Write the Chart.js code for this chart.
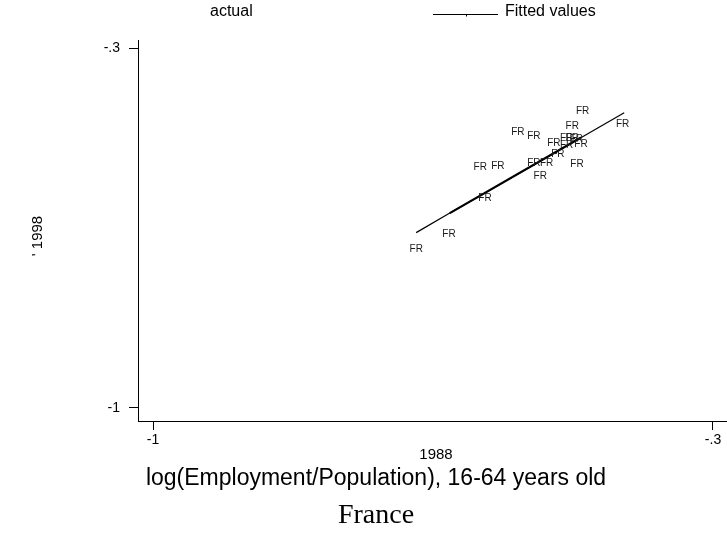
<!DOCTYPE html>
<html><head><meta charset="utf-8">
<script src="https://cdn.jsdelivr.net/npm/chart.js@4.4.0/dist/chart.umd.min.js"></script>
<style>html,body{margin:0;padding:0;background:#fff;}#wrap{width:727px;height:544px;position:relative;}</style>
</head><body><div id="wrap"><canvas id="c" width="727" height="544"></canvas></div>
<script>
// ---- data ----
const markLabel = "FR";
const actualX = [-0.463,-0.413,-0.476,-0.544,-0.524,-0.483,-0.476,-0.471,-0.499,-0.483,-0.465,-0.494,-0.591,-0.569,-0.524,-0.508,-0.470,-0.516,-0.585,-0.630,-0.671];
const actualY = [-0.423,-0.448,-0.452,-0.463,-0.471,-0.475,-0.475,-0.477,-0.485,-0.489,-0.487,-0.506,-0.531,-0.529,-0.524,-0.524,-0.526,-0.549,-0.592,-0.662,-0.691];
// fitted line (whole line, and the overdrawn middle part)
const fittedX = [-0.671,-0.629,-0.586,-0.411];
const fittedY = [-0.659,-0.621,-0.583,-0.426];
const fittedMidX = [-0.629,-0.465];
const fittedMidY = [-0.621,-0.474];
const xTicks = [-1, -0.3];
const yTicks = [-1, -0.3];
const tickText = {"-1":"-1","-0.3":"-.3"};
const legendLabels = ["actual", "Fitted values"];
const xTitle = "log(Employment/Population), 16-64 years old";
const xSubTitle = "1988";
const yTitle = "' 1998";
const chartTitle = "France";

const SANS = "'Liberation Sans', Arial, sans-serif";
const SERIF = "'Liberation Serif', 'Times New Roman', serif";

const fmt = v => tickText[String(Math.round(v*1000)/1000)] ?? String(v);

const marksPlugin = {
  id: 'marks',
  afterDatasetsDraw(chart) {
    const ctx = chart.ctx;
    const meta = chart.getDatasetMeta(0);
    ctx.save();
    ctx.font = "10px " + SANS;
    ctx.fillStyle = "#1a1a1a";
    ctx.textAlign = "center";
    ctx.textBaseline = "middle";
    meta.data.forEach(p => ctx.fillText(markLabel, p.x, p.y));
    ctx.restore();
  },
  afterDraw(chart) {
    const ctx = chart.ctx;
    ctx.save();
    ctx.fillStyle = "#000";
    ctx.strokeStyle = "#000";
    // legend
    ctx.font = "16px " + SANS;
    ctx.textBaseline = "middle";
    ctx.textAlign = "left";
    ctx.fillText(legendLabels[0], 210, 12);
    ctx.beginPath(); ctx.lineWidth = 1;
    ctx.moveTo(433, 14.5); ctx.lineTo(498, 14.5); ctx.stroke();
    ctx.fillRect(466, 15, 1, 1.5);
    ctx.fillText(legendLabels[1], 505, 12);
    // x titles
    ctx.textAlign = "center";
    ctx.font = "15px " + SANS;
    ctx.fillText(xSubTitle, 436, 455);
    ctx.font = "23px " + SANS;
    ctx.fillText(xTitle, 376, 479);
    ctx.font = "28px " + SERIF;
    ctx.fillText(chartTitle, 376, 516);
    // y title
    ctx.save();
    ctx.translate(38, 236);
    ctx.rotate(-Math.PI/2);
    ctx.font = "15px " + SANS;
    ctx.fillText(yTitle, 0, 0);
    ctx.restore();
    ctx.restore();
  }
};

new Chart(document.getElementById('c'), {
  type: 'scatter',
  data: {
    datasets: [
      { label: legendLabels[0], data: actualX.map((x,i)=>({x, y: actualY[i]})), pointRadius: 0, pointHoverRadius: 0, showLine: false },
      { label: legendLabels[1], data: fittedX.map((x,i)=>({x, y: fittedY[i]})), showLine: true, borderColor: '#000', borderWidth: 1.2, pointRadius: 0, tension: 0, fill: false },
      { label: legendLabels[1], data: fittedMidX.map((x,i)=>({x, y: fittedMidY[i]})), showLine: true, borderColor: '#000', borderWidth: 2.2, pointRadius: 0, tension: 0, fill: false }
    ]
  },
  options: {
    responsive: false, animation: false, devicePixelRatio: 1,
    layout: { padding: { top: 40, left: 0, right: 0, bottom: 0 } },
    plugins: { legend: { display: false }, title: { display: false }, tooltip: { enabled: false } },
    scales: {
      x: {
        type: 'linear', min: -1.01875, max: -0.2825,
        afterBuildTicks: s => { s.ticks = xTicks.map(v => ({ value: v })); },
        afterFit: s => { s.height = 123; },
        ticks: { callback: v => fmt(v), font: { family: SANS, size: 14 }, color: '#000', padding: 2, maxRotation: 0, autoSkip: false },
        grid: { display: true, drawOnChartArea: false, drawTicks: true, tickLength: 9, color: '#000', tickColor: '#000', lineWidth: 1 },
        border: { display: true, color: '#000', width: 1 }
      },
      y: {
        type: 'linear', min: -1.02528, max: -0.28444,
        afterBuildTicks: s => { s.ticks = yTicks.map(v => ({ value: v })); },
        afterFit: s => { s.width = 138; },
        ticks: { callback: v => fmt(v), font: { family: SANS, size: 14 }, color: '#000', padding: 9, autoSkip: false },
        grid: { display: true, drawOnChartArea: false, drawTicks: true, tickLength: 9, color: '#000', tickColor: '#000', lineWidth: 1 },
        border: { display: true, color: '#000', width: 1 }
      }
    }
  },
  plugins: [marksPlugin]
});
</script></body></html>
